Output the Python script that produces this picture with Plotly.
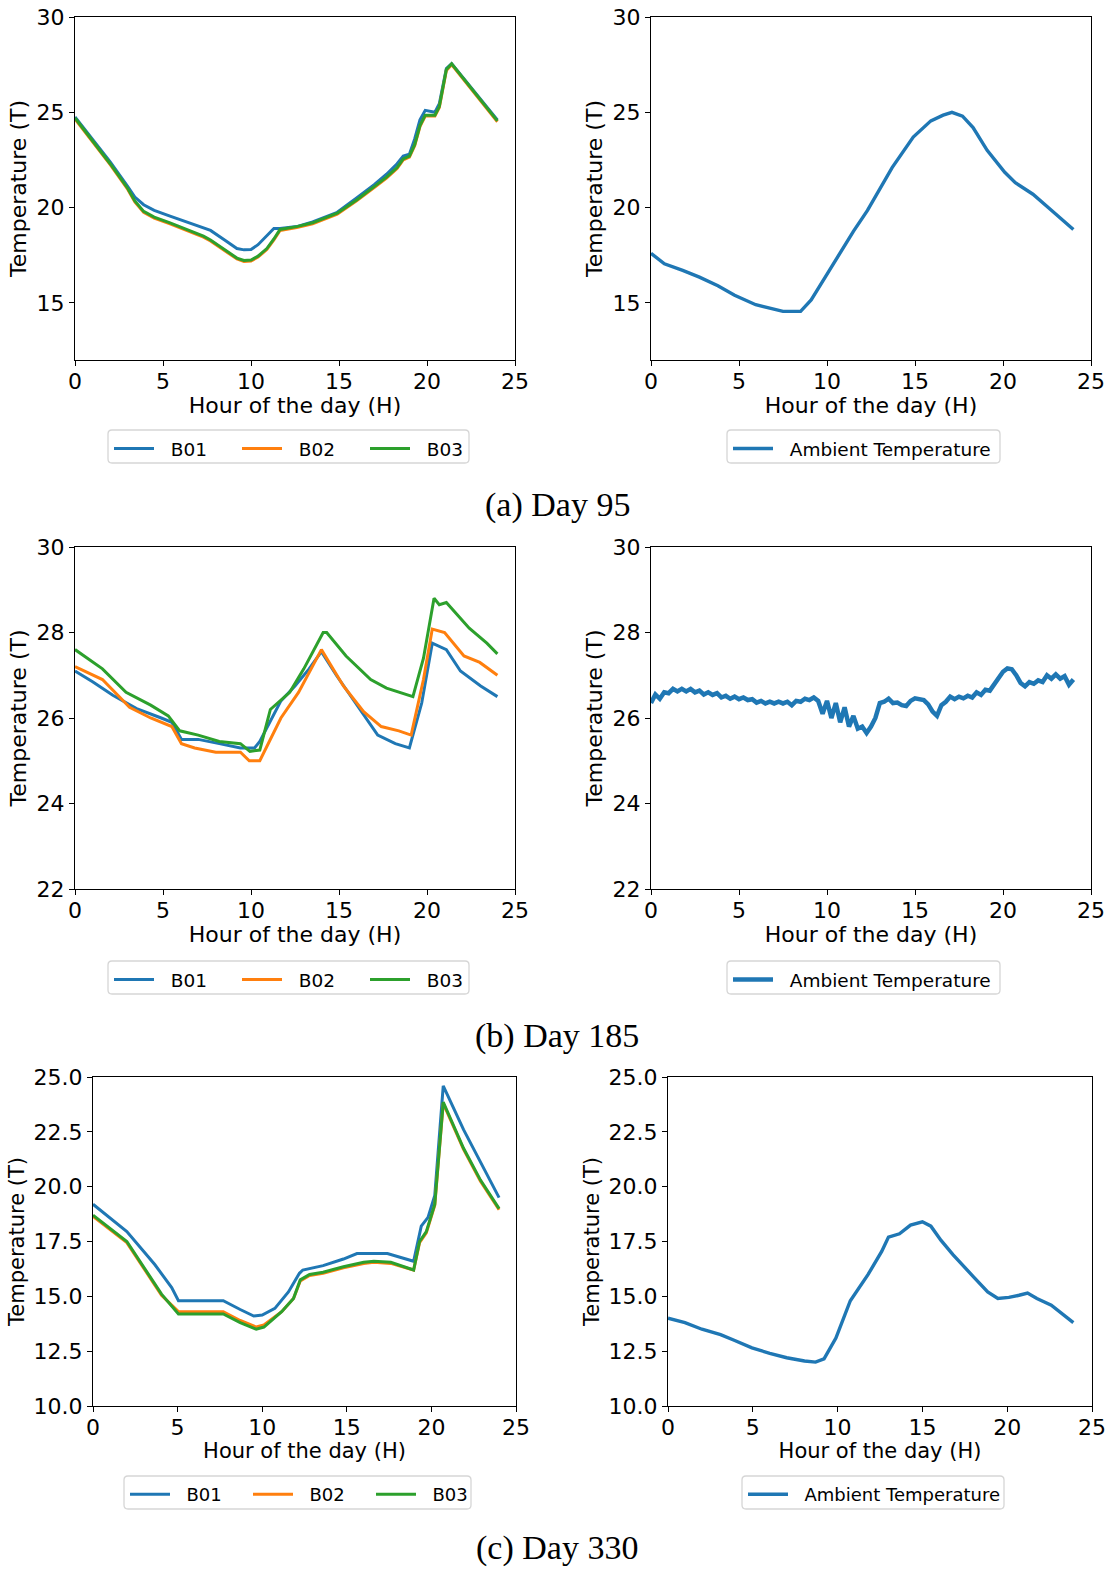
import plotly.graph_objects as go

W, H = 1112, 1571

BLUE = "#1f77b4"
ORANGE = "#ff7f0e"
GREEN = "#2ca02c"

# ---------------- Day 95 ----------------
d95_t = [0, 1, 2, 3, 3.4, 3.9, 4.5, 5.4, 6.5, 7.3, 7.7, 8.5, 9.2, 9.6, 10.0, 10.4, 10.9, 11.3, 11.65,
         12.6, 13.5, 14.9, 16.0, 17.0, 17.7, 18.3, 18.65, 19.0, 19.3, 19.6, 19.9, 20.1, 20.45, 20.7,
         20.9, 21.1, 21.4, 22.5, 24.0]
d95_b01 = [24.75, 23.6, 22.4, 21.1, 20.55, 20.15, 19.85, 19.55, 19.2, 18.95, 18.8, 18.3, 17.85, 17.78, 17.8,
           18.05, 18.5, 18.9, 18.9, 19.0, 19.25, 19.75, 20.5, 21.2, 21.75, 22.3, 22.7, 22.8, 23.6, 24.6,
           25.1, 25.05, 25.0, 25.45, 26.4, 27.3, 27.55, 26.3, 24.6]
d95_b02 = [24.65, 23.45, 22.25, 20.95, 20.3, 19.75, 19.45, 19.15, 18.75, 18.45, 18.25, 17.75, 17.3, 17.17, 17.2,
           17.4, 17.8, 18.3, 18.8, 18.95, 19.15, 19.65, 20.35, 21.05, 21.55, 22.05, 22.5, 22.65, 23.25, 24.25,
           24.8, 24.8, 24.8, 25.25, 26.25, 27.2, 27.5, 26.25, 24.5]
d95_b03 = [24.7, 23.5, 22.3, 21.0, 20.35, 19.8, 19.5, 19.2, 18.8, 18.5, 18.3, 17.8, 17.35, 17.22, 17.25,
           17.45, 17.85, 18.35, 18.85, 19.0, 19.2, 19.7, 20.4, 21.1, 21.6, 22.1, 22.55, 22.7, 23.3, 24.3,
           24.85, 24.85, 24.85, 25.3, 26.3, 27.25, 27.55, 26.3, 24.55]

d95_amb_t = [0, 0.76, 1.8, 2.75, 3.8, 4.75, 5.95, 7.5, 8.5, 9.1, 9.9, 10.7, 11.5, 12.3, 13.0, 13.7,
             14.9, 15.9, 16.6, 17.1, 17.7, 18.3, 19.1, 20.1, 20.7, 21.7, 22.7, 24.0]
d95_amb = [17.6, 17.05, 16.7, 16.35, 15.9, 15.4, 14.9, 14.55, 14.55, 15.15, 16.35, 17.55, 18.75, 19.85, 20.95, 22.1,
           23.7, 24.55, 24.85, 25.0, 24.8, 24.2, 23.0, 21.85, 21.3, 20.7, 19.9, 18.85]

# ---------------- Day 185 ----------------
d185_b01_t = [0, 1.0, 2.15, 3.5, 4.9, 5.5, 6.05, 7.0, 8.2, 9.4, 10.2, 10.5, 11.7, 12.5, 13.3, 14.0,
              14.85, 16.2, 17.2, 18.2, 19.0, 19.7, 20.3, 21.1, 21.9, 23.05, 24.0]
d185_b01 = [27.1, 26.85, 26.53, 26.22, 26.0, 25.9, 25.5, 25.5, 25.4, 25.3, 25.3, 25.45, 26.4, 26.75, 27.15, 27.55,
            27.0, 26.2, 25.6, 25.4, 25.3, 26.35, 27.75, 27.6, 27.1, 26.75, 26.5]
d185_b02_t = [0, 1.56, 3.1, 4.3, 5.5, 6.05, 6.8, 8.0, 9.4, 9.9, 10.5, 11.7, 12.7, 14.0,
              15.25, 16.4, 17.4, 18.4, 19.1, 19.8, 20.3, 21.0, 22.1, 23.0, 24.0]
d185_b02 = [27.2, 26.9, 26.25, 26.0, 25.8, 25.4, 25.3, 25.2, 25.2, 25.0, 25.0, 26.0, 26.6, 27.6,
            26.75, 26.15, 25.8, 25.7, 25.6, 26.9, 28.08, 28.0, 27.45, 27.3, 27.0]
d185_b03_t = [0, 1.56, 2.9, 4.3, 5.3, 5.95, 7.0, 8.2, 9.4, 9.94, 10.5, 11.1, 12.2, 13.0, 14.1, 14.3,
              15.4, 16.8, 17.7, 18.65, 19.2, 19.8, 20.4, 20.7, 21.1, 22.4, 23.4, 24.0]
d185_b03 = [27.6, 27.15, 26.6, 26.3, 26.05, 25.7, 25.6, 25.45, 25.4, 25.22, 25.25, 26.2, 26.6, 27.15, 28.0, 28.0,
            27.45, 26.9, 26.7, 26.57, 26.5, 27.4, 28.8, 28.65, 28.7, 28.1, 27.75, 27.5]

d185_amb_t = [i * 0.25 for i in range(97)]
d185_amb = [26.35, 26.55, 26.45, 26.60, 26.58, 26.68, 26.62, 26.68, 26.62, 26.68,
            26.60, 26.64, 26.55, 26.60, 26.54, 26.58, 26.48, 26.52, 26.45, 26.50,
            26.44, 26.48, 26.42, 26.44, 26.36, 26.40, 26.34, 26.38, 26.34, 26.38,
            26.34, 26.38, 26.30, 26.40, 26.38, 26.45, 26.42, 26.48, 26.40, 26.10,
            26.40, 26.00, 26.35, 25.90, 26.25, 25.80, 26.05, 25.75, 25.80, 25.65,
            25.80, 26.00, 26.35, 26.38, 26.45, 26.35, 26.36, 26.30, 26.28, 26.40,
            26.46, 26.44, 26.42, 26.32, 26.15, 26.05, 26.30, 26.38, 26.50, 26.44,
            26.50, 26.46, 26.52, 26.48, 26.60, 26.54, 26.66, 26.64, 26.80, 26.92,
            27.08, 27.16, 27.14, 27.00, 26.82, 26.74, 26.84, 26.80, 26.88, 26.84,
            27.00, 26.92, 27.02, 26.92, 26.98, 26.78, 26.90]

# ---------------- Day 330 ----------------
d330_b01_t = [0, 2.0, 3.65, 4.65, 5.05, 7.7, 8.7, 9.5, 10.0, 10.75, 11.55, 12.2, 12.4, 13.6, 14.8,
              15.6, 17.4, 18.25, 18.95, 19.4, 19.8, 20.2, 20.7, 21.9, 22.9, 24.0]
d330_b01 = [19.2, 17.95, 16.45, 15.4, 14.8, 14.8, 14.4, 14.1, 14.15, 14.45, 15.2, 16.05, 16.2, 16.4, 16.7,
            16.95, 16.95, 16.75, 16.6, 18.2, 18.6, 19.6, 24.6, 22.6, 21.1, 19.5]
d330_b23_t = [0, 2.0, 4.05, 5.05, 7.7, 8.7, 9.65, 10.1, 11.15, 11.85, 12.25, 12.8, 13.6, 14.8,
              16.0, 16.6, 17.6, 18.95, 19.3, 19.7, 20.2, 20.7, 21.9, 22.9, 24.0]
d330_b02 = [18.65, 17.45, 15.05, 14.3, 14.3, 13.9, 13.6, 13.7, 14.3, 14.9, 15.7, 15.95, 16.05, 16.3,
            16.5, 16.55, 16.5, 16.2, 17.45, 17.9, 19.15, 23.8, 21.7, 20.25, 18.95]
d330_b03 = [18.7, 17.5, 15.1, 14.2, 14.2, 13.8, 13.5, 13.6, 14.3, 14.9, 15.75, 16.0, 16.1, 16.35,
            16.55, 16.6, 16.55, 16.2, 17.5, 17.95, 19.2, 23.85, 21.75, 20.3, 19.0]

d330_amb_t = [0, 1.0, 2.0, 3.1, 3.9, 4.95, 6.0, 7.0, 8.05, 8.7, 9.2, 9.9, 10.75, 11.8, 12.6, 13.0,
              13.65, 14.3, 15.0, 15.5, 16.1, 16.8, 18.0, 18.85, 19.45, 20.1, 20.7, 21.2, 21.75, 22.6, 23.9]
d330_amb = [14.0, 13.8, 13.5, 13.25, 13.0, 12.65, 12.4, 12.2, 12.05, 12.0, 12.15, 13.1, 14.8, 16.0, 17.05, 17.7,
            17.85, 18.25, 18.4, 18.2, 17.55, 16.9, 15.9, 15.2, 14.9, 14.95, 15.05, 15.15, 14.9, 14.6, 13.8]

X_TICKS = [0, 5, 10, 15, 20, 25]
Y_RANGES = {"a": [12, 30], "b": [22, 30], "c": [10, 25]}
Y_DTICK = {"a": 5, "b": 2, "c": 2.5}
CAPTIONS = ["(a) Day 95", "(b) Day 185", "(c) Day 330"]

# panel boxes in pixels: (left, right, top, bottom)
BOXES = [
    (75, 515, 17, 360), (651, 1091, 17, 360),
    (75, 515, 547, 889), (651, 1091, 547, 889),
    (93, 516, 1077, 1406), (668, 1092, 1077, 1406),
]
# legend frames in pixels: (left, right, top, bottom), and item pitch
LEGEND_BOX = [
    (108, 469, 430, 463), (727, 1000, 430, 463),
    (108, 469, 961, 994), (727, 1000, 961, 994),
    (124, 471, 1476, 1509), (742, 1004, 1476, 1509),
]
LEGEND_PITCH = [128, 0, 128, 0, 123, 0]
TITLE_SIZE = {"a": 22, "b": 22, "c": 21}
LEGEND_SIZE = {"a": 18.5, "b": 18.5, "c": 18}
CAPTION_Y = [505, 1036, 1548]


def px_x(p):
    return p / W


def px_y(p):
    return 1 - p / H


fig = go.Figure()
NB = "\u00a0\u00a0"


def add_line(idx, x, y, name, color, width=3.0):
    s = "" if idx == 1 else str(idx)
    fig.add_trace(go.Scatter(
        x=x, y=y, mode="lines", name=NB + name,
        line=dict(color=color, width=width),
        xaxis="x" + s, yaxis="y" + s,
        legend="legend" + s,
    ))


add_line(1, d95_t, d95_b01, "B01", BLUE)
add_line(1, d95_t, d95_b02, "B02", ORANGE)
add_line(1, d95_t, d95_b03, "B03", GREEN)
add_line(2, d95_amb_t, d95_amb, "Ambient Temperature", BLUE, 3.4)
add_line(3, d185_b01_t, d185_b01, "B01", BLUE)
add_line(3, d185_b02_t, d185_b02, "B02", ORANGE)
add_line(3, d185_b03_t, d185_b03, "B03", GREEN)
add_line(4, d185_amb_t, d185_amb, "Ambient Temperature", BLUE, 4.5)
add_line(5, d330_b01_t, d330_b01, "B01", BLUE)
add_line(5, d330_b23_t, d330_b02, "B02", ORANGE)
add_line(5, d330_b23_t, d330_b03, "B03", GREEN)
add_line(6, d330_amb_t, d330_amb, "Ambient Temperature", BLUE, 3.4)

FONT = "DejaVu Sans"
layout = dict(
    width=W, height=H,
    margin=dict(l=0, r=0, t=0, b=0),
    paper_bgcolor="white", plot_bgcolor="white",
    font=dict(family=FONT, size=22, color="black"),
    annotations=[], shapes=[],
)

for i, (l, r, t, b) in enumerate(BOXES):
    n = i + 1
    s = "" if n == 1 else str(n)
    row = "abc"[i // 2]
    axis_common = dict(
        showline=True, linecolor="black", linewidth=1.2, mirror=True,
        ticks="outside", ticklen=5, tickwidth=1.2, tickcolor="black",
        showgrid=False, zeroline=False, automargin=False,
        tickfont=dict(family=FONT, size=22),
    )
    layout["xaxis" + s] = dict(
        axis_common,
        domain=[px_x(l), px_x(r)],
        anchor="y" + s,
        range=[0, 25], tickvals=X_TICKS, ticklabelstandoff=-4,
        title=dict(text="Hour of the day (H)", font=dict(family=FONT, size=TITLE_SIZE[row]), standoff=3),
    )
    layout["yaxis" + s] = dict(
        axis_common,
        domain=[px_y(b), px_y(t)],
        anchor="x" + s,
        range=Y_RANGES[row], dtick=Y_DTICK[row], tick0=0,
        tickformat=".1f" if row == "c" else "d",
        title=dict(text="Temperature (T)", font=dict(family=FONT, size=TITLE_SIZE[row]), standoff=3),
    )

    bl, br, bt, bb = LEGEND_BOX[i]
    pitch = LEGEND_PITCH[i]
    layout["legend" + s] = dict(
        x=px_x(bl + 1), y=px_y(bt), xanchor="left", yanchor="top",
        orientation="h", borderwidth=0, bgcolor="rgba(0,0,0,0)",
        font=dict(family=FONT, size=LEGEND_SIZE[row]), itemwidth=40,
        entrywidth=pitch - 55 if pitch else 0,
    )
    # rounded legend frame, like matplotlib's fancybox
    x0, x1, y0, y1 = px_x(bl), px_x(br), px_y(bt), px_y(bb)
    rx, ry = 4 / W, 4 / H
    path = (f"M {x0 + rx},{y0} L {x1 - rx},{y0} Q {x1},{y0} {x1},{y0 - ry} "
            f"L {x1},{y1 + ry} Q {x1},{y1} {x1 - rx},{y1} L {x0 + rx},{y1} "
            f"Q {x0},{y1} {x0},{y1 + ry} L {x0},{y0 - ry} Q {x0},{y0} {x0 + rx},{y0} Z")
    layout["shapes"].append(dict(
        type="path", path=path, xref="paper", yref="paper",
        line=dict(color="#d6d6d6", width=1.3), layer="below",
    ))

for cap, cy in zip(CAPTIONS, CAPTION_Y):
    layout["annotations"].append(dict(
        text=cap, x=px_x(557), y=px_y(cy), xref="paper", yref="paper",
        xanchor="center", yanchor="middle", showarrow=False,
        font=dict(family="Liberation Serif", size=34, color="black"),
    ))

fig.update_layout(**layout)
# drop the browser's default 8px body margin so the figure fills the window
fig.write_html("out.html", config={"displayModeBar": False},
               post_script="document.body.style.margin='0';")
